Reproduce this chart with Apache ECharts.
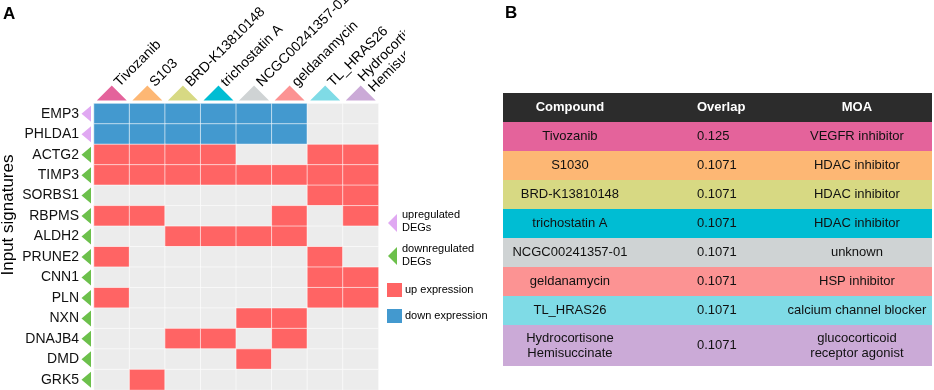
<!DOCTYPE html>
<html>
<head>
<meta charset="utf-8">
<script src="https://cdn.jsdelivr.net/npm/echarts@6/dist/echarts.min.js"></script>
<style>
  html, body { margin: 0; padding: 0; background: #fff; }
  #main { width: 934px; height: 390px; }
</style>
</head>
<body>
<div id="main"></div>
<script>
// panel A: compounds (columns) x input signatures (rows)
const compounds = ['Tivozanib', 'S103', 'BRD-K13810148', 'trichostatin A', 'NCGC00241357-01',
  'geldanamycin', 'TL_HRAS26', 'Hydrocortisone\nHemisuccinate']
const genes = ['EMP3', 'PHLDA1', 'ACTG2', 'TIMP3', 'SORBS1', 'RBPMS', 'ALDH2', 'PRUNE2',
  'CNN1', 'PLN', 'NXN', 'DNAJB4', 'DMD', 'GRK5']
const geneDirection = ['up', 'up', 'down', 'down', 'down', 'down', 'down', 'down',
  'down', 'down', 'down', 'down', 'down', 'down']
// 1 = up expression, -1 = down expression, 0 = none
const expression = [
  [-1, -1, -1, -1, -1, -1, 0, 0],
  [-1, -1, -1, -1, -1, -1, 0, 0],
  [1, 1, 1, 1, 0, 0, 1, 1],
  [1, 1, 1, 1, 1, 1, 1, 1],
  [0, 0, 0, 0, 0, 0, 1, 1],
  [1, 1, 0, 0, 0, 1, 0, 1],
  [0, 0, 1, 1, 1, 1, 0, 0],
  [1, 0, 0, 0, 0, 0, 1, 0],
  [0, 0, 0, 0, 0, 0, 1, 1],
  [1, 0, 0, 0, 0, 0, 1, 1],
  [0, 0, 0, 0, 1, 1, 0, 0],
  [0, 0, 1, 1, 0, 1, 0, 0],
  [0, 0, 0, 0, 1, 0, 0, 0],
  [0, 1, 0, 0, 0, 0, 0, 0],
]

// panel B: table
const tableHeader = ['Compound', 'Overlap', 'MOA']
const tableCompounds = ['Tivozanib', 'S1030', 'BRD-K13810148', 'trichostatin A', 'NCGC00241357-01',
  'geldanamycin', 'TL_HRAS26', 'Hydrocortisone\nHemisuccinate']
const overlaps = ['0.125', '0.1071', '0.1071', '0.1071', '0.1071', '0.1071', '0.1071', '0.1071']
const moas = ['VEGFR inhibitor', 'HDAC inhibitor', 'HDAC inhibitor', 'HDAC inhibitor', 'unknown',
  'HSP inhibitor', 'calcium channel blocker', 'glucocorticoid\nreceptor agonist']

const compoundColors = ['#e4639b', '#fdb774', '#d7d983', '#00bdd3', '#cfd3d4',
  '#fc9393', '#7fdbe6', '#cbaad7']
const UP_C = '#ff6464'
const DOWN_C = '#4399cf'
const NONE_C = '#ececec'
const UPDEG_C = '#e0a8f2'
const DOWNDEG_C = '#6cc04b'
const FONT = '"Liberation Sans", Arial, sans-serif'
const PANEL_A_RIGHT = 405 // panel A is cropped here in the figure

const heatData = []
expression.forEach((row, y) => {
  row.forEach((v, x) => { heatData.push([x, y, v]) })
})

// table rows: height follows number of text lines
const tableRows = [{ cells: tableHeader, header: true }].concat(
  tableCompounds.map((c, i) => ({ cells: [c, overlaps[i], moas[i]], color: compoundColors[i] }))
)
let acc = 0
const tableData = tableRows.map((r, i) => {
  const lines = Math.max(...r.cells.map(t => t.split('\n').length))
  const start = acc
  acc += lines + 1.42
  return [i, start, acc]
})
const tableTotal = acc

const chart = echarts.init(document.getElementById('main'))

chart.setOption({
  animation: false,
  textStyle: { fontFamily: FONT },
  grid: [
    { left: 94, top: 103.5, width: 284.5, height: 291.2 },
    { left: 503, top: 93, width: 429, height: 273 },
  ],
  xAxis: [
    { type: 'category', data: compounds, gridIndex: 0, show: false },
    { type: 'value', min: 0, max: 1, gridIndex: 1, show: false },
  ],
  yAxis: [
    {
      type: 'category',
      data: genes,
      gridIndex: 0,
      inverse: true,
      axisLine: { show: false },
      axisTick: { show: false },
      axisLabel: { margin: 15, fontSize: 14, color: '#111', fontFamily: FONT },
    },
    { type: 'value', min: 0, max: tableTotal, inverse: true, gridIndex: 1, show: false },
  ],
  visualMap: {
    type: 'piecewise',
    show: false,
    seriesIndex: 0,
    dimension: 2,
    pieces: [
      { value: -1, color: DOWN_C },
      { value: 0, color: NONE_C },
      { value: 1, color: UP_C },
    ],
  },
  graphic: [
    { type: 'text', left: 3, top: 6, style: { text: 'A', font: 'bold 17px ' + FONT, fill: '#000' } },
    { type: 'text', left: 505, top: 5, style: { text: 'B', font: 'bold 17px ' + FONT, fill: '#000' } },
    {
      type: 'text', x: 8, y: 215, rotation: Math.PI / 2,
      style: { text: 'Input signatures', font: '17px ' + FONT, fill: '#000', align: 'center', verticalAlign: 'middle' },
    },
    // legend
    { type: 'polygon', shape: { points: [[388, 223], [397, 214], [397, 232]] }, style: { fill: UPDEG_C } },
    {
      type: 'text', x: 402, y: 221,
      style: { text: 'upregulated\nDEGs', font: '11px ' + FONT, lineHeight: 13, fill: '#000', verticalAlign: 'middle' },
    },
    { type: 'polygon', shape: { points: [[388, 256], [397, 247], [397, 265]] }, style: { fill: DOWNDEG_C } },
    {
      type: 'text', x: 402, y: 255,
      style: { text: 'downregulated\nDEGs', font: '11px ' + FONT, lineHeight: 13, fill: '#000', verticalAlign: 'middle' },
    },
    { type: 'rect', shape: { x: 387, y: 283, width: 15, height: 14 }, style: { fill: UP_C } },
    {
      type: 'text', x: 405, y: 290,
      style: { text: 'up expression', font: '11px ' + FONT, fill: '#000', verticalAlign: 'middle' },
    },
    { type: 'rect', shape: { x: 387, y: 309, width: 15, height: 14 }, style: { fill: DOWN_C } },
    {
      type: 'text', x: 405, y: 316,
      style: { text: 'down expression', font: '11px ' + FONT, fill: '#000', verticalAlign: 'middle' },
    },
  ],
  series: [
    {
      type: 'heatmap',
      xAxisIndex: 0,
      yAxisIndex: 0,
      data: heatData,
      itemStyle: { borderColor: '#fff', borderWidth: 0.6 },
      emphasis: { disabled: true },
    },
    {
      // column headers: coloured triangle + rotated compound name
      type: 'custom',
      xAxisIndex: 0,
      yAxisIndex: 0,
      clip: false,
      data: compounds.map((c, i) => [i, 0]),
      renderItem (params, api) {
        const i = api.value(0)
        const pt = api.coord([i, 0])
        const size = api.size([1, 1])
        const cx = pt[0]
        const top = pt[1] - size[1] / 2
        return {
          type: 'group',
          clipPath: { type: 'rect', shape: { x: 0, y: 0, width: PANEL_A_RIGHT, height: top } },
          children: [
            {
              type: 'polygon',
              shape: { points: [[cx, top - 18], [cx - 15, top - 3], [cx + 15, top - 3]] },
              style: { fill: compoundColors[i] },
            },
            {
              type: 'text',
              x: cx + 5,
              y: top - 19,
              rotation: Math.PI / 4,
              style: {
                text: compounds[i],
                font: '14px ' + FONT,
                lineHeight: 15,
                fill: '#000',
                align: 'left',
                verticalAlign: 'middle',
              },
            },
          ],
        }
      },
    },
    {
      // row markers: up / down regulated triangles
      type: 'custom',
      xAxisIndex: 0,
      yAxisIndex: 0,
      clip: false,
      data: genes.map((g, j) => [0, j]),
      renderItem (params, api) {
        const j = api.value(1)
        const pt = api.coord([0, j])
        const size = api.size([1, 1])
        const left = pt[0] - size[0] / 2
        const cy = pt[1]
        return {
          type: 'polygon',
          shape: { points: [[left - 12.5, cy], [left - 3, cy - 8], [left - 3, cy + 8]] },
          style: { fill: geneDirection[j] === 'up' ? UPDEG_C : DOWNDEG_C },
        }
      },
    },
    {
      // table B
      type: 'custom',
      xAxisIndex: 1,
      yAxisIndex: 1,
      data: tableData,
      renderItem (params, api) {
        const i = api.value(0)
        const p0 = api.coord([0, api.value(1)])
        const p1 = api.coord([1, api.value(2)])
        const w = p1[0] - p0[0]
        const h = p1[1] - p0[1]
        const row = tableRows[i]
        const cy = p0[1] + h / 2
        const font = (row.header ? 'bold ' : '') + '13px ' + FONT
        const fill = row.header ? '#fff' : '#111'
        const cols = [
          { x: p0[0] + w * 0.156, align: 'center' },
          { x: p0[0] + w * 0.452, align: 'left' },
          { x: p0[0] + w * 0.825, align: 'center' },
        ]
        return {
          type: 'group',
          children: [
            {
              type: 'rect',
              shape: { x: p0[0], y: p0[1], width: w, height: h },
              style: { fill: row.header ? '#2c2c2c' : row.color },
            },
          ].concat(row.cells.map((t, k) => ({
            type: 'text',
            x: cols[k].x,
            y: cy,
            style: { text: t, font, fill, lineHeight: 15, align: cols[k].align, verticalAlign: 'middle' },
          }))),
        }
      },
    },
  ],
})
</script>
</body>
</html>
